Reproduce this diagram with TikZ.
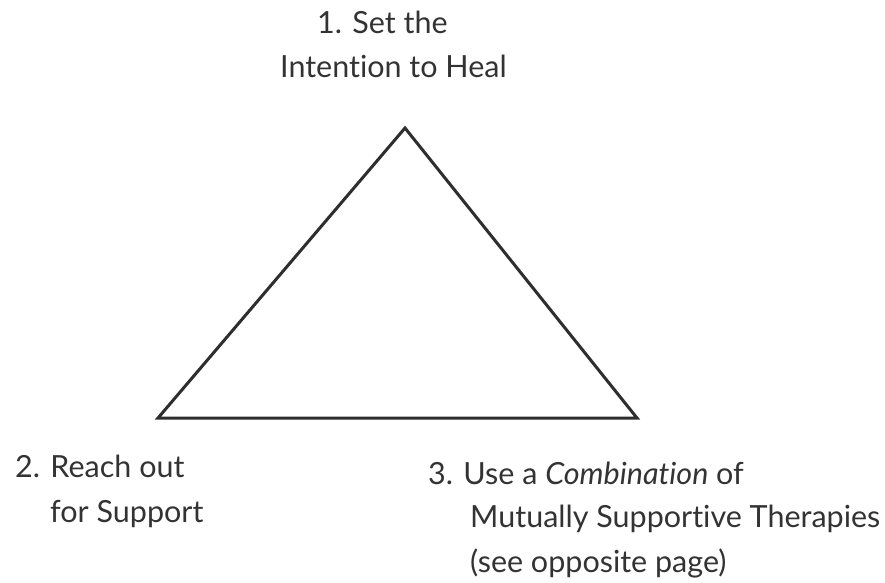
\documentclass[tikz,border=0pt]{standalone}
\usepackage{fontspec}
\setmainfont[Ligatures=NoCommon]{Lato}

\begin{document}
\begin{tikzpicture}[x=1pt, y=-1pt, every node/.style={inner sep=0pt, text=black!80, font=\fontsize{30.5}{36}\selectfont}]

\useasboundingbox (0,0) rectangle (885,582);

\coordinate (top) at (405,128);
\coordinate (left) at (158,418);
\coordinate (right) at (637,418);

\draw[black!82, line width=3] (top) -- (left) -- (right) -- cycle;

\node[anchor=base west] (one) at (317,33) {1. Set the};
\node[anchor=base west] (onebis) at (280,77) {Intention to Heal};

\node[anchor=base west] (two) at (15,477) {2. Reach out};
\node[anchor=base west] (twobis) at (50,522) {for Support};

\node[anchor=base west] (three) at (428,484) {3. Use a \textit{Combination} of};
\node[anchor=base west] (threebis) at (470,527) {Mutually Supportive Therapies};
\node[anchor=base west] (threeter) at (470,572) {(see opposite page)};

\end{tikzpicture}
\end{document}
